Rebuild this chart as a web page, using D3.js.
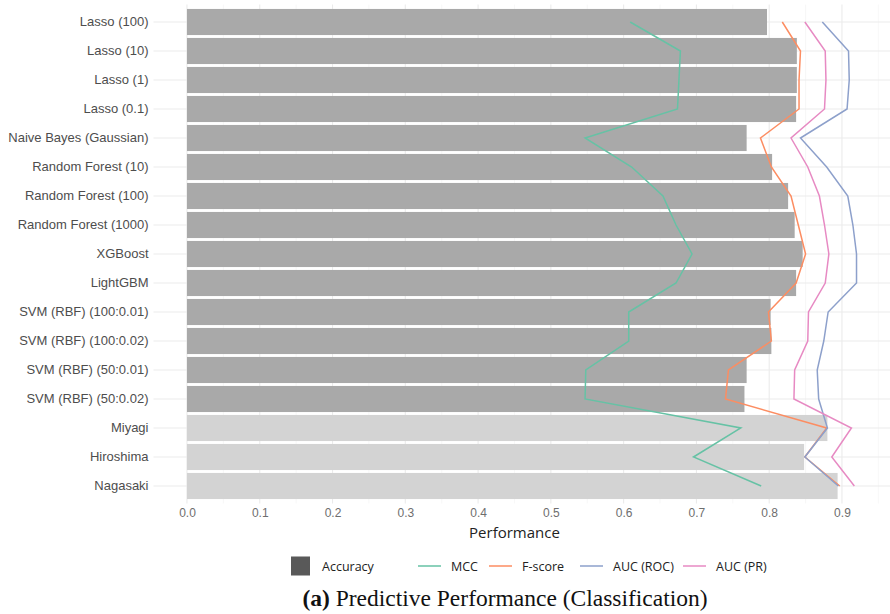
<!DOCTYPE html>
<html>
<head>
<meta charset="utf-8">
<script src="https://cdn.jsdelivr.net/npm/d3@7"></script>
<style>
  body { margin: 0; background: #fff; }
  svg { display: block; font-family: "Open Sans", sans-serif; }
</style>
</head>
<body>
<div id="chart"></div>
<script>
// Predictive performance (classification)

const models = [
    "Lasso (100)", "Lasso (10)", "Lasso (1)", "Lasso (0.1)", "Naive Bayes (Gaussian)",
    "Random Forest (10)", "Random Forest (100)", "Random Forest (1000)", "XGBoost", "LightGBM",
    "SVM (RBF) (100:0.01)", "SVM (RBF) (100:0.02)", "SVM (RBF) (50:0.01)", "SVM (RBF) (50:0.02)",
    "Miyagi", "Hiroshima", "Nagasaki"
];
const external = ["Miyagi", "Hiroshima", "Nagasaki"];

const accuracy = [0.797, 0.838, 0.838, 0.837, 0.769, 0.804, 0.826, 0.835, 0.846, 0.837,
                  0.802, 0.803, 0.769, 0.766, 0.880, 0.848, 0.894];
const mcc      = [0.609, 0.678, 0.676, 0.674, 0.547, 0.611, 0.654, 0.672, 0.694, 0.672,
                  0.607, 0.607, 0.548, 0.547, 0.761, 0.696, 0.789];
const fscore   = [0.818, 0.843, 0.841, 0.841, 0.788, 0.803, 0.830, 0.840, 0.850, 0.837,
                  0.799, 0.803, 0.744, 0.740, 0.879, 0.849, 0.897];
const aucRoc   = [0.873, 0.909, 0.910, 0.907, 0.843, 0.879, 0.908, 0.915, 0.920, 0.920,
                  0.881, 0.875, 0.866, 0.868, 0.880, 0.849, 0.895];
const aucPr    = [0.849, 0.877, 0.878, 0.876, 0.830, 0.853, 0.869, 0.876, 0.882, 0.877,
                  0.854, 0.853, 0.835, 0.834, 0.913, 0.886, 0.917];

const xTicks = [0, 0.1, 0.2, 0.3, 0.4, 0.5, 0.6, 0.7, 0.8, 0.9];
const xMinor = [0.05, 0.15, 0.25, 0.35, 0.45, 0.55, 0.65, 0.75, 0.85, 0.95];

const series = [
    { name: "MCC", values: mcc, color: "#66c2a5" },
    { name: "F-score", values: fscore, color: "#fc8d62" },
    { name: "AUC (ROC)", values: aucRoc, color: "#8da0cb" },
    { name: "AUC (PR)", values: aucPr, color: "#e78ac3" }
];

const W = 890, H = 614;
const panel = { left: 153.5, right: 890, top: 4.6, bottom: 503.4 };

const svg = d3.select("#chart").append("svg")
    .attr("width", W)
    .attr("height", H);

const x = d3.scaleLinear()
    .domain([-0.046, 0.966])
    .range([panel.left, panel.right]);

const y = d3.scaleBand()
    .domain(models)
    .range([panel.top, panel.bottom])
    .paddingInner(0.1)
    .paddingOuter(0.15);

const yc = d => y(d) + y.bandwidth() / 2;

// gridlines
const grid = svg.append("g");
grid.selectAll(".minor").data(xMinor).enter().append("line")
    .attr("x1", d => x(d)).attr("x2", d => x(d))
    .attr("y1", panel.top).attr("y2", panel.bottom)
    .attr("stroke", "#f2f2f2").attr("stroke-width", 0.6);
grid.selectAll(".major").data(xTicks).enter().append("line")
    .attr("x1", d => x(d)).attr("x2", d => x(d))
    .attr("y1", panel.top).attr("y2", panel.bottom)
    .attr("stroke", "#ebebeb").attr("stroke-width", 1.1);
grid.selectAll(".hmajor").data(models).enter().append("line")
    .attr("x1", panel.left).attr("x2", panel.right)
    .attr("y1", d => yc(d)).attr("y2", d => yc(d))
    .attr("stroke", "#ebebeb").attr("stroke-width", 1.1);

// bars
svg.append("g").selectAll("rect")
    .data(models).enter().append("rect")
    .attr("x", x(0))
    .attr("y", d => y(d))
    .attr("width", (d, i) => x(accuracy[i]) - x(0))
    .attr("height", y.bandwidth())
    .attr("fill", d => external.includes(d) ? "#d3d3d3" : "#a9a9a9");

// metric lines
const line = d3.line()
    .x(d => x(d.v))
    .y(d => yc(d.m));

svg.append("g").selectAll("path")
    .data(series).enter().append("path")
    .attr("d", s => line(s.values.map((v, i) => ({ v: v, m: models[i] }))))
    .attr("fill", "none")
    .attr("stroke", s => s.color)
    .attr("stroke-width", 1.5);

// axes
const yAxis = svg.append("g")
    .attr("transform", `translate(${panel.left},0)`)
    .call(d3.axisLeft(y).tickSize(0).tickPadding(5));
yAxis.select(".domain").remove();
yAxis.selectAll("text")
    .attr("fill", "#4d4d4d")
    .style("font-size", "13px");

const xAxis = svg.append("g")
    .attr("transform", `translate(0,${panel.bottom})`)
    .call(d3.axisBottom(x).tickValues(xTicks).tickFormat(d3.format(".1f")).tickSize(0).tickPadding(5));
xAxis.select(".domain").remove();
xAxis.selectAll("text")
    .attr("fill", "#6e6e6e")
    .style("font-size", "12px")
    .style("font-weight", "300");

svg.append("text")
    .attr("x", x(0.45))
    .attr("y", 538)
    .attr("text-anchor", "middle")
    .attr("fill", "#222")
    .style("font-size", "15px")
    .text("Performance");

// legend
const legend = svg.append("g").attr("transform", "translate(0,566)");
legend.append("rect")
    .attr("x", 291).attr("y", -9.5)
    .attr("width", 19).attr("height", 19)
    .attr("fill", "#595959");
legend.append("text")
    .attr("x", 322).attr("y", 4.5)
    .attr("fill", "#222")
    .style("font-size", "12.5px")
    .text("Accuracy");

const keyX = [418, 489, 580, 683];
const items = legend.selectAll(".item")
    .data(series).enter().append("g")
    .attr("transform", (d, i) => `translate(${keyX[i]},0)`);
items.append("line")
    .attr("x1", 0).attr("x2", 23)
    .attr("stroke", d => d.color)
    .attr("stroke-width", 1.5);
items.append("text")
    .attr("x", 33).attr("y", 4.5)
    .attr("fill", "#222")
    .style("font-size", "12.5px")
    .text(d => d.name);

// caption
const cap = svg.append("text")
    .attr("x", 505)
    .attr("y", 606)
    .attr("text-anchor", "middle")
    .attr("fill", "#111")
    .style("font-family", "'Liberation Serif', 'DejaVu Serif', serif")
    .style("font-size", "23.5px");
cap.append("tspan").style("font-weight", "bold").text("(a)");
cap.append("tspan").text(" Predictive Performance (Classification)");
</script>
</body>
</html>
